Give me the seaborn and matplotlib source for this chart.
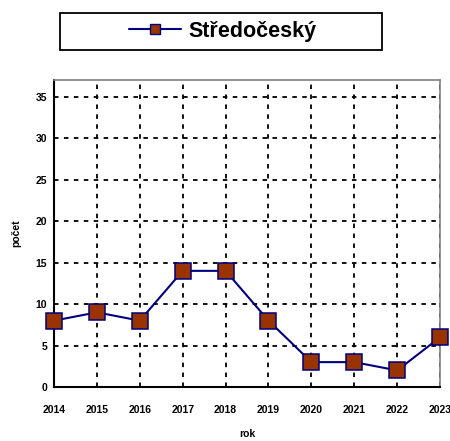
import matplotlib
matplotlib.use("Agg")
import matplotlib.pyplot as plt
import matplotlib.patches as mpatches
import seaborn as sns
import pandas as pd

years = [2014, 2015, 2016, 2017, 2018, 2019, 2020, 2021, 2022, 2023]
values = [8, 9, 8, 14, 14, 8, 3, 3, 2, 6]
series_name = "Středočeský"
yticks = [0, 5, 10, 15, 20, 25, 30, 35]

sns.set_style("white")
plt.rcParams['font.family'] = ['Liberation Sans', 'DejaVu Sans']
plt.rcParams['text.color'] = 'black'
plt.rcParams['axes.labelcolor'] = 'black'
plt.rcParams['xtick.color'] = 'black'
plt.rcParams['ytick.color'] = 'black'

df = pd.DataFrame({"rok": years, "počet": values})

fig = plt.figure(figsize=(4.5, 4.41), dpi=100)
ax = fig.add_axes([0.12, 0.1224, 0.858, 0.6962])

sns.lineplot(data=df, x="rok", y="počet", ax=ax, color="#000080", linewidth=1.5,
             marker="s", markersize=11, markerfacecolor="#993300",
             markeredgecolor="#000080", markeredgewidth=1.1, label=series_name,
             clip_on=False, zorder=5)

ax.set_xlim(2014, 2023)
ax.set_ylim(0, 37)
ax.set_xticks(years)
ax.set_xticklabels([str(y) for y in years], fontsize=7.5, fontweight="bold")
ax.set_yticks(yticks)
ax.set_yticklabels([str(t) for t in yticks], fontsize=7.5, fontweight="bold")
ax.tick_params(axis="both", direction="out", length=3, width=1, color="black",
               labelcolor="black", pad=2)
ax.tick_params(axis="x", pad=10)

ax.grid(True, color="black", linestyle=(0, (2.5, 3)), linewidth=1.3)
ax.set_axisbelow(True)

for s in ["left", "bottom"]:
    ax.spines[s].set_color("black")
    ax.spines[s].set_linewidth(1.5)
for s in ["top", "right"]:
    ax.spines[s].set_color("#808080")
    ax.spines[s].set_linewidth(1.2)

ax.set_xlabel("rok", fontsize=7.5, fontweight="bold", labelpad=10, color="black")
ax.set_ylabel("počet", fontsize=7.5, fontweight="bold", labelpad=10, color="black")

# legend frame box
W, H = 450, 441
box = mpatches.Rectangle((60 / W, 1 - 50 / H), (382 - 60) / W, 37 / H,
                         transform=fig.transFigure, facecolor="white",
                         edgecolor="black", linewidth=1.3, zorder=-1)
fig.patches.append(box)

leg = ax.legend(loc="center", bbox_to_anchor=(223 / W, 1 - 31.5 / H),
                bbox_transform=fig.transFigure, frameon=False,
                prop={"family": "Liberation Sans", "weight": "bold", "size": 15.5},
                handlelength=2.4, handletextpad=0.35, borderaxespad=0)
for t in leg.get_texts():
    t.set_text(series_name)
    t.set_color("black")
for h in leg.legend_handles:
    h.set_markersize(7)
    h.set_markeredgewidth(1)

fig.savefig("out.png", dpi=100)
